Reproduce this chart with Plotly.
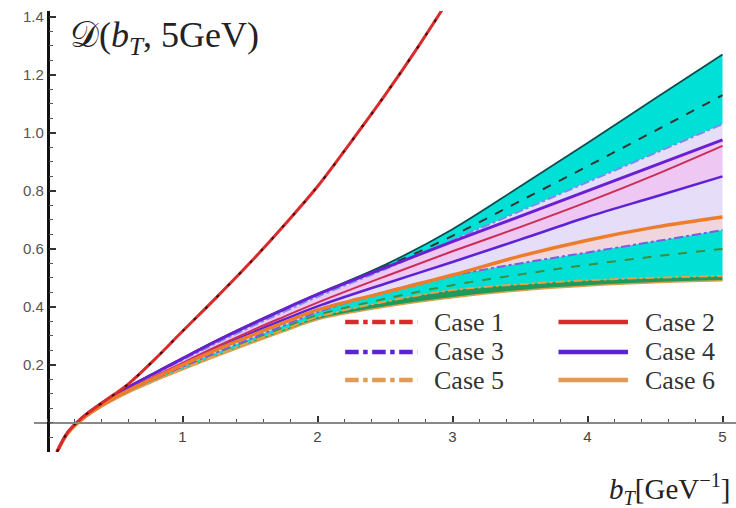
import plotly.graph_objects as go

# Impact-parameter grid (GeV^-1)
b = [0.07, 0.15, 0.25, 0.4, 0.6, 0.8, 1.0, 1.25, 1.5, 1.75, 2.0, 2.5, 3.0, 3.5, 4.0, 4.5, 5.0]
b_steep = [0.07, 0.15, 0.25, 0.4, 0.6, 0.8, 1.0, 1.25, 1.5, 1.75, 2.0, 2.25, 2.5, 2.75, 3.0]

# Collins-Soper kernel curves D(b_T, 5 GeV)
steep = [-0.100, -0.032, 0.016, 0.068, 0.135, 0.222, 0.316, 0.432, 0.552, 0.680, 0.815, 0.970, 1.130, 1.300, 1.480]
band_top = [-0.100, -0.032, 0.015, 0.068, 0.125, 0.175, 0.224, 0.284, 0.340, 0.393, 0.445, 0.545, 0.668, 0.815, 0.965, 1.118, 1.270]
black_mid = [-0.100, -0.032, 0.015, 0.067, 0.123, 0.172, 0.220, 0.279, 0.335, 0.388, 0.440, 0.538, 0.645, 0.765, 0.885, 1.007, 1.130]
case3_up = [-0.100, -0.033, 0.014, 0.066, 0.121, 0.170, 0.217, 0.275, 0.330, 0.383, 0.435, 0.530, 0.630, 0.730, 0.830, 0.930, 1.030]
case4_up = [-0.100, -0.032, 0.015, 0.068, 0.124, 0.173, 0.222, 0.282, 0.338, 0.392, 0.443, 0.535, 0.625, 0.712, 0.800, 0.888, 0.976]
case2 = [-0.100, -0.034, 0.012, 0.063, 0.116, 0.162, 0.207, 0.263, 0.316, 0.366, 0.415, 0.505, 0.592, 0.675, 0.762, 0.855, 0.955]
case4_lo = [-0.100, -0.034, 0.012, 0.062, 0.114, 0.159, 0.203, 0.257, 0.308, 0.356, 0.402, 0.480, 0.555, 0.632, 0.710, 0.780, 0.850]
case6 = [-0.100, -0.035, 0.011, 0.061, 0.113, 0.157, 0.200, 0.252, 0.300, 0.346, 0.390, 0.450, 0.510, 0.575, 0.630, 0.675, 0.710]
case3_lo = [-0.100, -0.035, 0.010, 0.059, 0.110, 0.153, 0.194, 0.243, 0.290, 0.336, 0.382, 0.452, 0.508, 0.550, 0.588, 0.626, 0.665]
green_mid = [-0.100, -0.036, 0.009, 0.057, 0.107, 0.149, 0.189, 0.237, 0.283, 0.328, 0.372, 0.428, 0.475, 0.512, 0.545, 0.574, 0.600]
case5 = [-0.100, -0.036, 0.009, 0.057, 0.106, 0.148, 0.187, 0.234, 0.279, 0.322, 0.365, 0.418, 0.458, 0.478, 0.492, 0.501, 0.507]
band_bot = [-0.100, -0.037, 0.008, 0.055, 0.104, 0.145, 0.183, 0.229, 0.273, 0.315, 0.356, 0.400, 0.432, 0.456, 0.472, 0.483, 0.490]

legend_names = ["Case 1", "Case 2", "Case 3", "Case 4", "Case 5", "Case 6"]

RED = "#d92b2b"
BLUE = "#5b22d6"
ORANGE = "#ee7d2b"
CYAN = "#00e0d6"

fig = go.Figure()


def line(y, x=b, color="black", width=2, dash="solid", fill=None, fillcolor=None, name=None):
    fig.add_trace(go.Scatter(
        x=x, y=y, mode="lines",
        line=dict(color=color, width=width, dash=dash, shape="spline", smoothing=1.0),
        fill=fill, fillcolor=fillcolor, showlegend=False, name=name, hoverinfo="skip"))


def band(lo, hi, color):
    line(lo, width=0, color="rgba(0,0,0,0)")
    line(hi, width=0, color="rgba(0,0,0,0)", fill="tonexty", fillcolor=color)


# shaded uncertainty bands
band(case3_up, band_top, CYAN)
band(case3_lo, case3_up, "#e6ddf8")
band(case4_lo, case4_up, "rgba(245,185,240,0.6)")
band(case3_lo, case6, "rgba(250,205,200,0.55)")
band(case5, case3_lo, CYAN)
band(band_bot, case5, "#1f9a5a")

# curves
line(band_top, color="#0b4d4d", width=1.8)
line(black_mid, color="#333333", width=2, dash="dash")
line(green_mid, color="#3d8f3d", width=2, dash="dash")
line(band_bot, color="#d9a050", width=1.5)
line(case5, color="#e9a04a", width=2, dash="dashdot", name="Case 5")
line(case3_up, color="#7d8cf2", width=2, dash="dashdot", name="Case 3")
line(case3_lo, color="#7a5ee0", width=2, dash="dashdot", name="Case 3")
line(case4_lo, color=BLUE, width=2.5, name="Case 4")
line(case2, color="#cc2d55", width=2, name="Case 2")
line(case4_up, color="#6a1fd0", width=3, name="Case 4")
line(case6, color=ORANGE, width=3.5, name="Case 6")
line(steep, x=b_steep, color=RED, width=3, name="Case 1")
line(steep, x=b_steep, color="#4a0808", width=2, dash="3px,13px")

# legend drawn as line samples and labels
legend_rows = [0.348, 0.245, 0.148]
legend_styles = [
    (RED, "dashdot"), (RED, "solid"),
    (BLUE, "dashdot"), (BLUE, "solid"),
    ("#e39a55", "dashdot"), ("#e39a55", "solid"),
]
col_x = [(2.205, 2.74, 2.85), (3.785, 4.30, 4.41)]
for i, name in enumerate(legend_names):
    r, c = divmod(i, 2)
    x0, x1, xt = col_x[c]
    yy = legend_rows[r]
    color, dash = legend_styles[i]
    fig.add_shape(type="line", x0=x0, x1=x1, y0=yy, y1=yy, xref="x", yref="y",
                  line=dict(color=color, width=4.5, dash=dash))
    fig.add_annotation(x=xt, y=yy, xref="x", yref="y", text=name, showarrow=False,
                       xanchor="left", yanchor="middle",
                       font=dict(family="Liberation Serif", size=26, color="#333333"))

# title and axis label
fig.add_annotation(x=0.048, y=0.94, xref="paper", yref="paper", showarrow=False,
                   xanchor="left", yanchor="middle",
                   text="𝒟(<i>b</i><sub><i>T</i></sub>, 5GeV)",
                   font=dict(family="Liberation Serif", size=36, color="#222222"))
fig.add_annotation(x=0.995, y=-0.084, xref="paper", yref="paper", showarrow=False,
                   xanchor="right", yanchor="middle",
                   text="<i>b</i><sub><i>T</i></sub>[GeV<sup>−1</sup>]",
                   font=dict(family="Liberation Serif", size=29, color="#222222"))

x_range = [-0.1, 5.1]
y_range = [-0.1, 1.42]
x_ticks = [1, 2, 3, 4, 5]
y_ticks = [0.2, 0.4, 0.6, 0.8, 1.0, 1.2, 1.4]

fig.update_layout(
    width=736, height=508,
    margin=dict(l=34, r=0, t=11, b=56),
    paper_bgcolor="white", plot_bgcolor="white",
    showlegend=False,
    xaxis=dict(
        range=x_range, showgrid=False, zeroline=False,
        showline=True, linecolor="#888888", linewidth=1.5,
        anchor="free", position=(0 - y_range[0]) / (y_range[1] - y_range[0]),
        tickvals=x_ticks, ticktext=[str(v) for v in x_ticks],
        ticks="inside", ticklen=6, tickwidth=1.5, tickcolor="#333333",
        minor=dict(dtick=0.2, tick0=0, ticks="inside", ticklen=3.5, tickcolor="#555555", tickwidth=1.2),
        tickfont=dict(family="Liberation Sans", size=15, color="#444444"),
    ),
    yaxis=dict(
        range=y_range, showgrid=False, zeroline=False,
        showline=True, linecolor="#111111", linewidth=2.5,
        anchor="free", position=(0 - x_range[0]) / (x_range[1] - x_range[0]),
        tickvals=y_ticks, ticktext=["%.1f" % v for v in y_ticks],
        ticks="inside", ticklen=7, tickwidth=1.5, tickcolor="#333333",
        minor=dict(dtick=0.05, tick0=0, ticks="inside", ticklen=4, tickcolor="#555555", tickwidth=1.2),
        tickfont=dict(family="Liberation Sans", size=15, color="#555555"),
    ),
)

fig.write_html("out.html")
